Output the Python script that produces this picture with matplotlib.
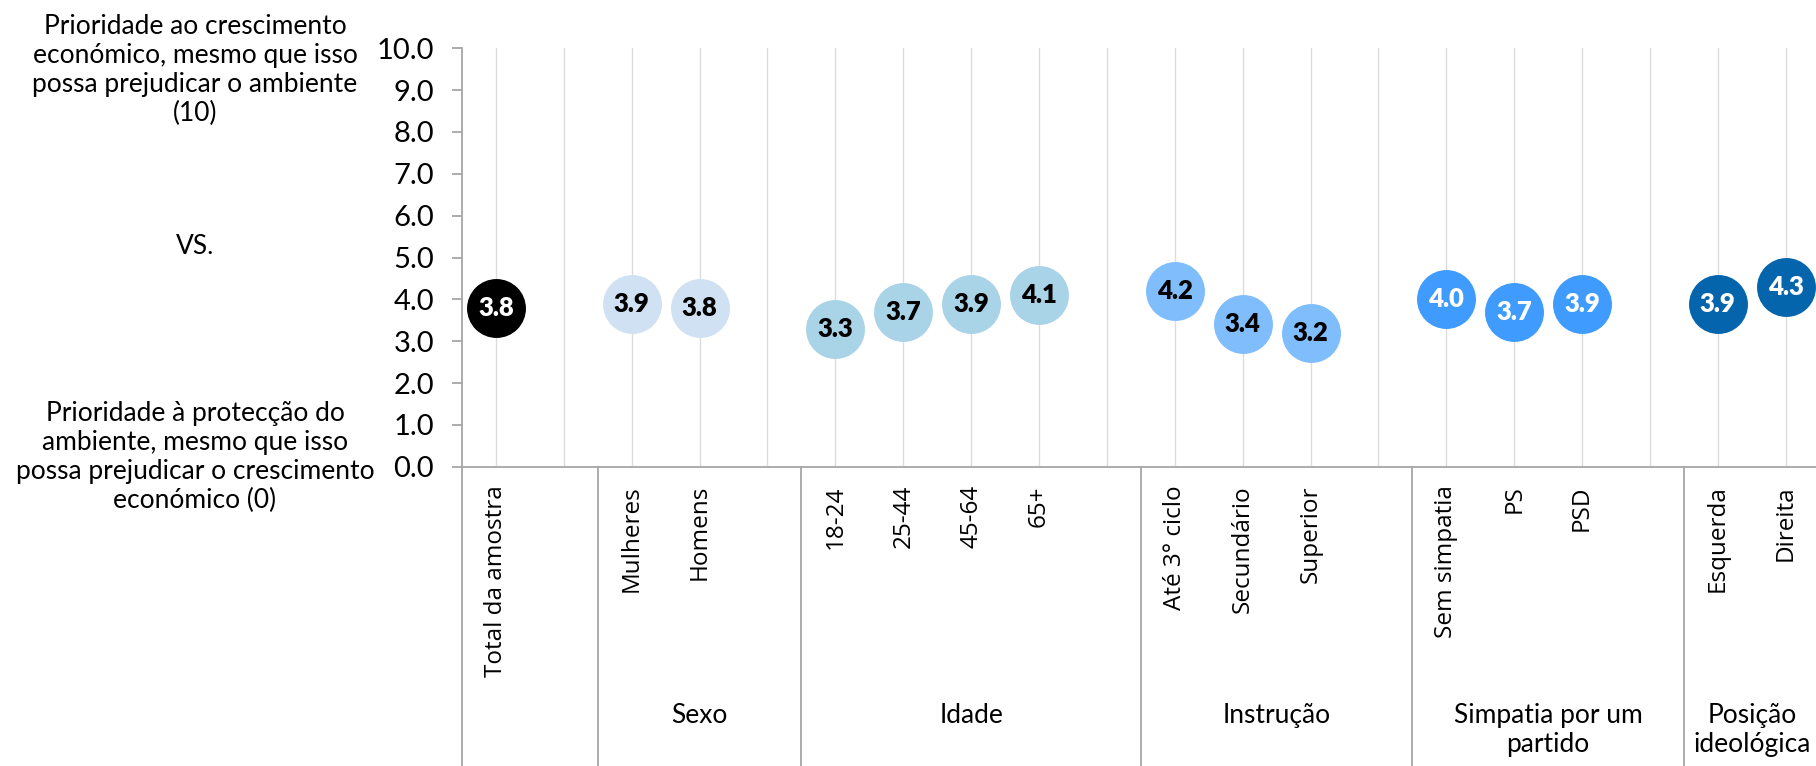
import matplotlib
matplotlib.use("Agg")

import matplotlib.pyplot as plt
import numpy as np

plt.rcParams["font.family"] = ["Lato", "DejaVu Sans"]

# Groups of the category axis and their values
group_names = ["", "Sexo", "Idade", "Instrução", "Simpatia por um\npartido", "Posição\nideológica"]
group_labels = [
    ["Total da amostra"],
    ["Mulheres", "Homens"],
    ["18-24", "25-44", "45-64", "65+"],
    ["Até 3° ciclo", "Secundário", "Superior"],
    ["Sem simpatia", "PS", "PSD"],
    ["Esquerda", "Direita"],
]
group_values = [
    [3.8],
    [3.9, 3.8],
    [3.3, 3.7, 3.9, 4.1],
    [4.2, 3.4, 3.2],
    [4.0, 3.7, 3.9],
    [3.9, 4.3],
]
group_colors = ["#000000", "#cfe1f2", "#a9d3e7", "#7fbdfd", "#3f9bfd", "#0565ac"]
text_colors = ["white", "black", "black", "black", "white", "white"]

top_text = "Prioridade ao crescimento\neconómico, mesmo que isso\npossa prejudicar o ambiente\n(10)"
mid_text = "VS."
bottom_text = "Prioridade à protecção do\nambiente, mesmo que isso\npossa prejudicar o crescimento\neconómico (0)"

W, H = 1816, 766
fig = plt.figure(figsize=(W / 100, H / 100), dpi=100)
ax = fig.add_axes([462 / W, 1 - 466.7 / H, (1819.7 - 462) / W, (466.7 - 48.3) / H])

# slot positions: one empty slot after each group except the last
pos = 0
starts = []
for i, labels in enumerate(group_labels):
    starts.append(pos)
    pos += len(labels) + (1 if i < len(group_labels) - 1 else 0)
n_slots = pos

ax.set_xlim(-0.5, n_slots - 0.5)
ax.set_ylim(0, 10)

for x in range(n_slots):
    ax.axvline(x, color="#dcdcdc", lw=1, zorder=0)

trans = ax.get_xaxis_transform()
for i, labels in enumerate(group_labels):
    xs = np.arange(starts[i], starts[i] + len(labels))
    vals = group_values[i]
    ax.scatter(xs, vals, s=1800, color=group_colors[i], zorder=3, linewidths=0)
    for x, v, lab in zip(xs, vals, labels):
        ax.text(x, v, f"{v:.1f}", ha="center", va="center", fontsize=18.5,
                fontweight="heavy", color=text_colors[i], zorder=4)
        ax.text(x, -0.044, lab, transform=trans, rotation=90, ha="center",
                va="top", fontsize=17.5, family=["Open Sans", "DejaVu Sans"],
                clip_on=False)
    # separator line at group start
    left = starts[i] - 0.5
    ax.plot([left, left], [0, -0.75], transform=trans, color="#a6a6a6",
            lw=1.3, clip_on=False)
    # group name centred over the group's slots
    end = starts[i + 1] - 0.5 if i + 1 < len(starts) else n_slots - 0.5
    if group_names[i]:
        ax.text((left + end) / 2, -0.565, group_names[i], transform=trans,
                ha="center", va="top", fontsize=19, linespacing=1.2)

ax.set_xticks([])
ax.set_yticks(np.arange(0, 11, 1))
ax.set_yticklabels([f"{v:.1f}" for v in np.arange(0, 11, 1)], fontsize=21)
ax.tick_params(axis="y", length=7, width=1.3, color="#a6a6a6", pad=13)
for side in ["top", "right"]:
    ax.spines[side].set_visible(False)
for side in ["left", "bottom"]:
    ax.spines[side].set_color("#a6a6a6")
    ax.spines[side].set_linewidth(1.3)

fig.text(195 / W, 1 - 70 / H, top_text, ha="center", va="center",
         fontsize=19, linespacing=1.2)
fig.text(195 / W, 1 - 247 / H, mid_text, ha="center", va="center", fontsize=19)
fig.text(195 / W, 1 - 457 / H, bottom_text, ha="center", va="center",
         fontsize=19, linespacing=1.2)

fig.savefig("out.png", dpi=100)
